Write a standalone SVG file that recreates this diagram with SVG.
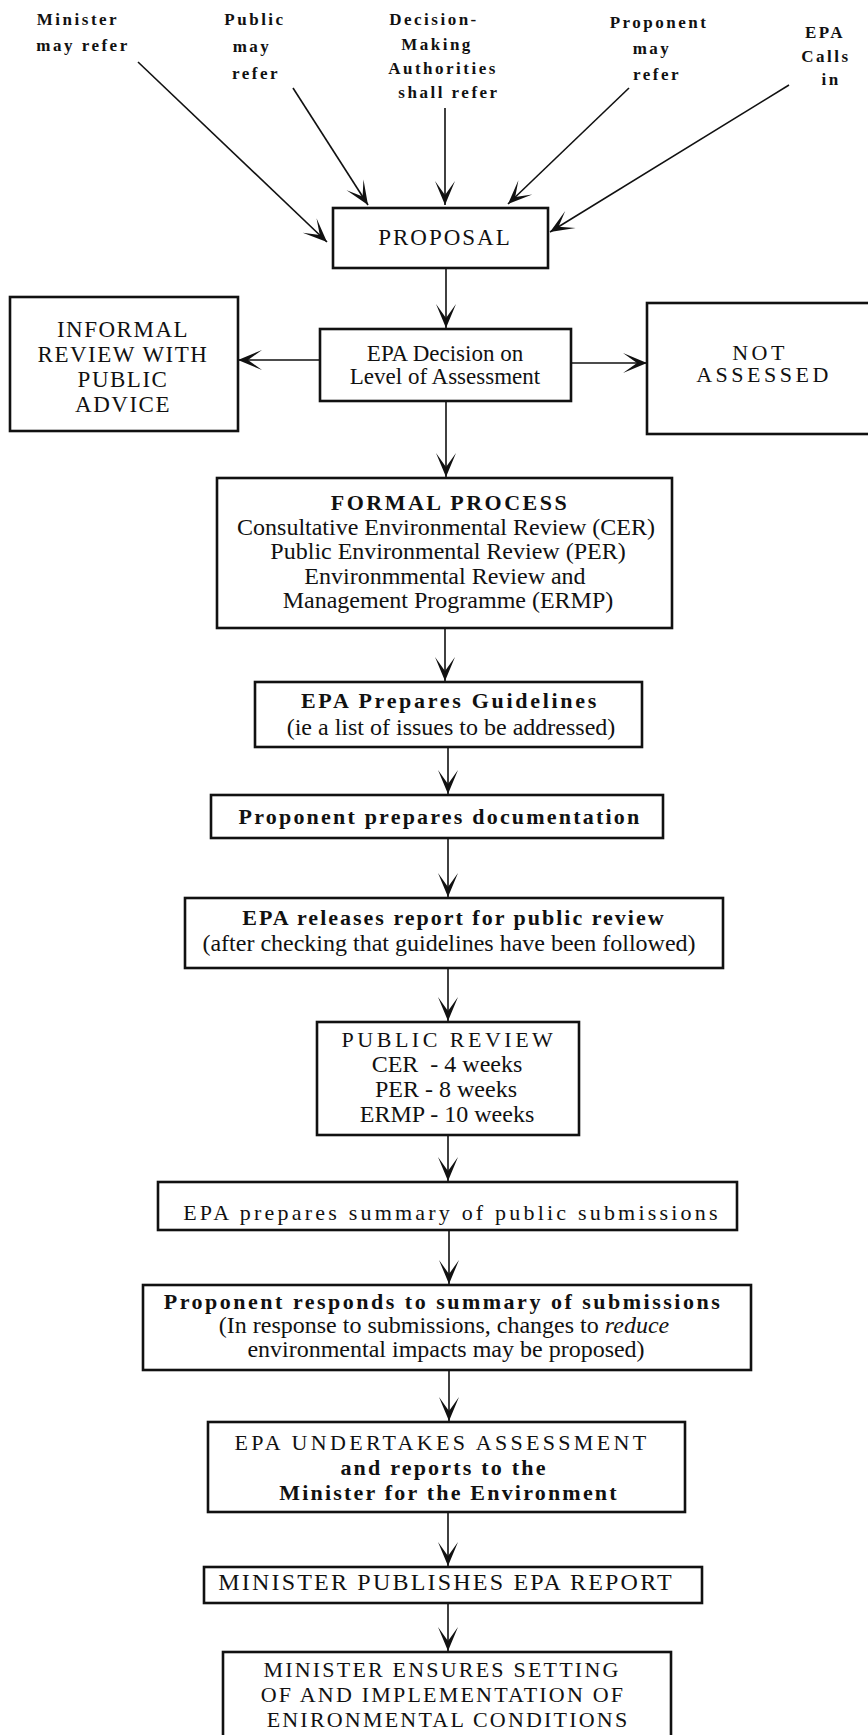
<svg xmlns="http://www.w3.org/2000/svg" width="868" height="1735" viewBox="0 0 868 1735">
<style>
.box{fill:#fff;stroke:#111;stroke-width:2.6}
.ln{stroke:#111;stroke-width:1.6;fill:none;marker-end:url(#ah)}
.t{font-family:"Liberation Serif","Times New Roman",serif;fill:#111;text-anchor:middle}
.lab{font-size:17px;font-weight:bold;letter-spacing:2.5px}
.r24{font-size:24px}
.h22{font-size:22px;font-weight:bold}
.c22{font-size:22px}
.inf{font-size:23px;letter-spacing:1.5px}
</style>
<defs>
<marker id="ah" viewBox="-26 -12 28 24" markerWidth="28" markerHeight="24" refX="0" refY="0" orient="auto" markerUnits="userSpaceOnUse">
<path d="M0,0 L-24,-10 L-10,0 L-24,10 Z" fill="#111"/>
</marker>
</defs>
<rect x="0" y="0" width="868" height="1735" fill="#fff"/>

<g id="labels">
<text class="t lab" x="78" y="25">Minister</text>
<text class="t lab" x="83" y="51">may refer</text>
<text class="t lab" x="255" y="25">Public</text>
<text class="t lab" x="252" y="52">may</text>
<text class="t lab" x="256" y="79">refer</text>
<text class="t lab" x="434" y="25">Decision-</text>
<text class="t lab" x="437" y="50">Making</text>
<text class="t lab" x="443" y="74">Authorities</text>
<text class="t lab" x="449" y="98">shall refer</text>
<text class="t lab" x="659" y="28">Proponent</text>
<text class="t lab" x="652" y="54">may</text>
<text class="t lab" x="657" y="80">refer</text>
<text class="t lab" x="825" y="38">EPA</text>
<text class="t lab" x="826" y="62">Calls</text>
<text class="t lab" x="831" y="85">in</text>
</g>

<g id="connectors">
<line class="ln" x1="138" y1="62" x2="327" y2="242"/>
<line class="ln" x1="293" y1="88" x2="368" y2="205"/>
<line class="ln" x1="445" y1="108" x2="445" y2="205"/>
<line class="ln" x1="629" y1="88" x2="508" y2="204"/>
<line class="ln" x1="789" y1="85" x2="550" y2="232"/>
<line class="ln" x1="446" y1="268" x2="446" y2="328"/>
<line class="ln" x1="320" y1="360" x2="238" y2="360"/>
<line class="ln" x1="571" y1="363" x2="647" y2="363"/>
<line class="ln" x1="446" y1="401" x2="446" y2="477"/>
<line class="ln" x1="445" y1="628" x2="445" y2="681"/>
<line class="ln" x1="448" y1="747" x2="448" y2="794"/>
<line class="ln" x1="448" y1="838" x2="448" y2="897"/>
<line class="ln" x1="448" y1="968" x2="448" y2="1021"/>
<line class="ln" x1="448" y1="1135" x2="448" y2="1181"/>
<line class="ln" x1="449" y1="1230" x2="449" y2="1284"/>
<line class="ln" x1="449" y1="1370" x2="449" y2="1421"/>
<line class="ln" x1="448" y1="1512" x2="448" y2="1566"/>
<line class="ln" x1="448" y1="1603" x2="448" y2="1651"/>
</g>

<g id="proposal">
<rect class="box" x="333" y="208" width="215" height="60"/>
<text class="t" x="445" y="245" style="font-size:23px;letter-spacing:2px">PROPOSAL</text>
</g>

<g id="informal">
<rect class="box" x="10" y="297" width="228" height="134"/>
<text class="t inf" x="123" y="337">INFORMAL</text>
<text class="t inf" x="123" y="362">REVIEW WITH</text>
<text class="t inf" x="123" y="387">PUBLIC</text>
<text class="t inf" x="123" y="412">ADVICE</text>
</g>

<g id="decision">
<rect class="box" x="320" y="329" width="251" height="72"/>
<text class="t" x="445" y="361" style="font-size:23px">EPA Decision on</text>
<text class="t" x="445" y="384" style="font-size:23px">Level of Assessment</text>
</g>

<g id="not-assessed">
<rect class="box" x="647" y="303" width="235" height="131"/>
<text class="t c22" x="760" y="360" style="letter-spacing:3.5px">NOT</text>
<text class="t c22" x="764" y="382" style="letter-spacing:3.5px">ASSESSED</text>
</g>

<g id="formal">
<rect class="box" x="217" y="478" width="455" height="150"/>
<text class="t h22" x="450" y="510" style="letter-spacing:2.5px">FORMAL PROCESS</text>
<text class="t r24" x="446" y="535">Consultative Environmental Review (CER)</text>
<text class="t r24" x="448" y="559">Public Environmental Review (PER)</text>
<text class="t r24" x="445" y="584">Environmmental Review and</text>
<text class="t r24" x="448" y="608">Management Programme (ERMP)</text>
</g>

<g id="guidelines">
<rect class="box" x="255" y="682" width="387" height="65"/>
<text class="t h22" x="450" y="708" style="letter-spacing:2.7px">EPA Prepares Guidelines</text>
<text class="t r24" x="451" y="735">(ie a list of issues to be addressed)</text>
</g>

<g id="documentation">
<rect class="box" x="211" y="795" width="452" height="43"/>
<text class="t h22" x="440" y="824" style="letter-spacing:2.2px">Proponent prepares documentation</text>
</g>

<g id="release">
<rect class="box" x="185" y="898" width="538" height="70"/>
<text class="t h22" x="454" y="925" style="letter-spacing:2px">EPA releases report for public review</text>
<text class="t r24" x="449" y="951">(after checking that guidelines have been followed)</text>
</g>

<g id="public-review">
<rect class="box" x="317" y="1022" width="262" height="113"/>
<text class="t c22" x="449" y="1047" style="letter-spacing:3.5px">PUBLIC REVIEW</text>
<text class="t r24" x="447" y="1072" xml:space="preserve">CER  - 4 weeks</text>
<text class="t r24" x="446" y="1097">PER - 8 weeks</text>
<text class="t r24" x="447" y="1122">ERMP - 10 weeks</text>
</g>

<g id="summary">
<rect class="box" x="158" y="1182" width="579" height="48"/>
<text class="t c22" x="452" y="1220" style="letter-spacing:3.2px">EPA prepares summary of public submissions</text>
</g>

<g id="responds">
<rect class="box" x="143" y="1285" width="608" height="85"/>
<text class="t h22" x="443" y="1309" style="letter-spacing:2.5px">Proponent responds to summary of submissions</text>
<text class="t r24" x="444" y="1333">(In response to submissions, changes to <tspan font-style="italic">reduce</tspan></text>
<text class="t r24" x="446" y="1357">environmental impacts may be proposed)</text>
</g>

<g id="assessment">
<rect class="box" x="208" y="1422" width="477" height="90"/>
<text class="t c22" x="442" y="1450" style="letter-spacing:3.3px">EPA UNDERTAKES ASSESSMENT</text>
<text class="t h22" x="444" y="1475" style="letter-spacing:2.2px">and reports to the</text>
<text class="t h22" x="449" y="1500" style="letter-spacing:2.2px">Minister for the Environment</text>
</g>

<g id="publishes">
<rect class="box" x="204" y="1567" width="498" height="36"/>
<text class="t r24" x="446" y="1590" style="letter-spacing:2.2px">MINISTER PUBLISHES EPA REPORT</text>
</g>

<g id="conditions">
<rect class="box" x="223" y="1652" width="448" height="100"/>
<text class="t c22" x="442" y="1677" style="letter-spacing:2.2px">MINISTER ENSURES SETTING</text>
<text class="t c22" x="443" y="1702" style="letter-spacing:2.2px">OF AND IMPLEMENTATION OF</text>
<text class="t c22" x="448" y="1727" style="letter-spacing:2.2px">ENIRONMENTAL CONDITIONS</text>
</g>
</svg>
